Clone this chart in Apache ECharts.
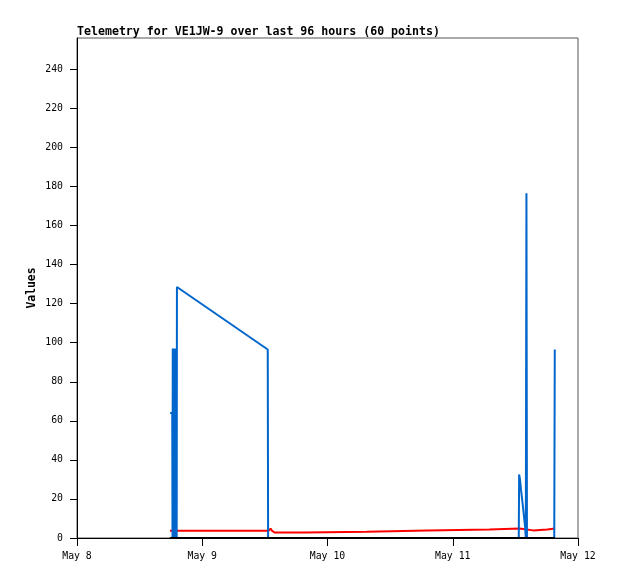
<!DOCTYPE html>
<html>
<head>
<meta charset="utf-8">
<script src="https://cdn.jsdelivr.net/npm/echarts@6/dist/echarts.min.js"></script>
<style>
html,body{margin:0;padding:0;background:#fff;}
#chart{width:618px;height:579px;}
</style>
</head>
<body>
<div id="chart"></div>
<script>
// Hours since May 8 00:00
var xTickLabels = ["May 8", "May 9", "May 10", "May 11", "May 12"];
var yTickValues = [0, 20, 40, 60, 80, 100, 120, 140, 160, 180, 200, 220, 240];

var blueTimes  = [17.85, 18.25, 18.3, 18.35, 18.4, 18.45, 18.5, 18.55, 18.6, 18.65, 18.7, 18.75, 18.8, 18.85, 18.9, 18.95, 19.0, 19.05, 19.1, 19.15, 36.55, 36.62, 84.65, 84.72, 84.88, 85.07, 85.26, 85.46, 85.65, 85.84, 86.0, 86.12, 86.22, 91.45, 91.55];
var blueValues = [64, 64, 0, 97, 0, 97, 0, 97, 0, 97, 0, 97, 0, 97, 0, 97, 0, 97, 0, 128.5, 96.5, 0, 0, 32.5, 30, 25, 20.5, 16, 11, 6.5, 0, 176.5, 0, 0, 96.5];

var redTimes  = [17.8, 36.7, 37.1, 37.4, 37.9, 43.9, 44.0, 55.5, 55.6, 67.2, 67.3, 79.0, 79.1, 84.8, 85.0, 87.4, 87.5, 90.1, 90.2, 91.6];
var redValues = [3.7, 3.7, 4.8, 3.6, 2.8, 2.8, 3.2, 3.2, 3.9, 3.9, 4.4, 4.4, 4.9, 4.9, 3.9, 3.9, 4.4, 4.4, 4.9, 4.9];

var blackTimes  = [17.8, 36.6, 55.0, 84.7, 91.6];
var blackValues = [0, 0, 0, 0, 0];

function pairs(t, v) { return t.map(function (x, i) { return [x, v[i]]; }); }

var mono = "'DejaVu Sans Mono', 'Liberation Mono', monospace";
var chart = echarts.init(document.getElementById('chart'), null, {renderer: 'canvas'});
chart.setOption({
  animation: false,
  backgroundColor: '#ffffff',
  title: {
    text: 'Telemetry for VE1JW-9 over last 96 hours (60 points)',
    left: 77, top: 26, padding: 0,
    textStyle: {fontFamily: mono, fontSize: 11.6, fontWeight: 'bold', color: '#000'}
  },
  grid: {left: 77, right: 40, top: 38, bottom: 41, show: true, borderColor: '#555', borderWidth: 1, backgroundColor: 'transparent'},
  xAxis: {
    type: 'value', min: 0, max: 96, interval: 24,
    axisLine: {show: true, onZero: false, lineStyle: {color: '#000', width: 1}},
    axisTick: {show: true, length: 8, lineStyle: {color: '#000'}},
    axisLabel: {
      margin: 13, color: '#000', fontFamily: mono, fontSize: 9.8,
      formatter: function (v) { return xTickLabels[Math.round(v / 24)] || ''; }
    },
    splitLine: {show: false}
  },
  yAxis: {
    type: 'value', min: 0, max: 256,
    name: 'Values', nameLocation: 'middle', nameGap: 39, nameMoveOverlap: false,
    nameTextStyle: {fontFamily: mono, fontSize: 11.4, fontWeight: 'bold', color: '#000'},
    axisLine: {show: true, lineStyle: {color: '#000', width: 1}},
    axisTick: {show: true, length: 7, customValues: yTickValues, lineStyle: {color: '#000'}},
    axisLabel: {show: true, margin: 14, customValues: yTickValues, color: '#000', fontFamily: mono, fontSize: 9.8},
    splitLine: {show: false}
  },
  series: [
    {name: 'red', type: 'line', data: pairs(redTimes, redValues), showSymbol: false, lineStyle: {color: '#ff0000', width: 2}, itemStyle: {color: '#ff0000'}},
    {name: 'blue', type: 'line', data: pairs(blueTimes, blueValues), showSymbol: false, lineStyle: {color: '#0066cc', width: 2}, itemStyle: {color: '#0066cc'}},
    {name: 'black', type: 'line', data: pairs(blackTimes, blackValues), showSymbol: false, lineStyle: {color: '#000000', width: 2}, itemStyle: {color: '#000'}}
  ]
});
</script>
</body>
</html>
